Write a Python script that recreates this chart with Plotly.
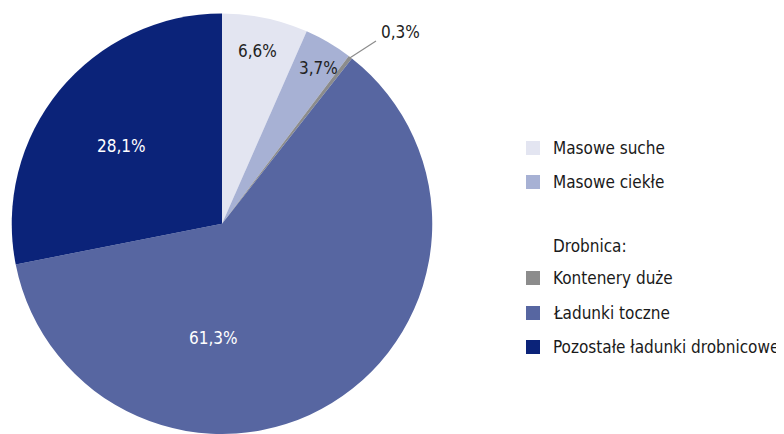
import math
import plotly.graph_objects as go

categories = ["Masowe suche", "Masowe ciekłe", "Kontenery duże", "Ładunki toczne", "Pozostałe ładunki drobnicowe"]
values = [6.6, 3.7, 0.3, 61.3, 28.1]
value_labels = ["6,6%", "3,7%", "0,3%", "61,3%", "28,1%"]
colors = ["#e3e5f1", "#a7b1d4", "#8c8c8c", "#5766a1", "#0b2379"]
legend_header = "Drobnica:"

# page body has an 8px default margin; figure sized so it fills the 784x434 window
OFF = 8
W, H = 784 - OFF, 434 - OFF
FONT = "DejaVu Sans Condensed, Liberation Sans Narrow, sans-serif"


def fx(X):
    return (X - OFF) / W


def fy(Y):
    return 1 - (Y - OFF) / H


dom_x = [fx(11), fx(433)]
dom_y = [0.0, fy(13.5)]

fig = go.Figure(go.Pie(
    labels=categories,
    values=values,
    marker=dict(colors=colors, line=dict(width=0)),
    sort=False,
    direction="clockwise",
    rotation=0,
    textinfo="none",
    hoverinfo="label+percent",
    showlegend=False,
    domain=dict(x=dom_x, y=dom_y),
))

# label positions (reference pixels)
label_px = [(257, 51), (318, 68), (400, 32), (213, 338), (121, 146)]
label_col = ["#222222", "#222222", "#222222", "#ffffff", "#ffffff"]
annotations = []
for txt, (X, Y), c in zip(value_labels, label_px, label_col):
    annotations.append(dict(x=fx(X), y=fy(Y), xref="paper", yref="paper",
                            text=txt, showarrow=False, xanchor="center", yanchor="middle",
                            font=dict(family=FONT, size=17, color=c)))

# leader line for the small slice, starting at its mid-angle on the rim
pw = (dom_x[1] - dom_x[0]) * W
ph = (dom_y[1] - dom_y[0]) * H
r = min(pw, ph) / 2
cx = (dom_x[0] + dom_x[1]) / 2 * W + OFF
cy = OFF + (1 - (dom_y[0] + dom_y[1]) / 2) * H
total = sum(values)
start = sum(values[:2]) / total
mid = (start + values[2] / total / 2) * 2 * math.pi
x0 = cx + (r - 1) * math.sin(mid)
y0 = cy - (r - 1) * math.cos(mid)
shapes = [dict(type="line", xref="paper", yref="paper",
               x0=fx(x0), y0=fy(y0), x1=fx(376), y1=fy(41),
               line=dict(color="#8c8c8c", width=1.2))]

# custom legend
legend_rows = [(0, 148), (1, 182), (None, 246), (2, 278), (3, 313), (4, 347)]
for idx, Y in legend_rows:
    if idx is None:
        annotations.append(dict(x=fx(551), y=fy(Y), xref="paper", yref="paper",
                                text=legend_header, showarrow=False, xanchor="left", yanchor="middle",
                                font=dict(family=FONT, size=17, color="#1a1a1a")))
        continue
    shapes.append(dict(type="rect", xref="paper", yref="paper",
                       x0=fx(526), x1=fx(540), y0=fy(Y + 7), y1=fy(Y - 7),
                       fillcolor=colors[idx], line=dict(width=0)))
    annotations.append(dict(x=fx(551), y=fy(Y), xref="paper", yref="paper",
                            text=categories[idx], showarrow=False, xanchor="left", yanchor="middle",
                            font=dict(family=FONT, size=17, color="#1a1a1a")))

fig.update_layout(
    width=W, height=H,
    margin=dict(l=0, r=0, t=0, b=0),
    paper_bgcolor="white",
    plot_bgcolor="white",
    annotations=annotations,
    shapes=shapes,
    showlegend=False,
)

fig.write_html("out.html")
